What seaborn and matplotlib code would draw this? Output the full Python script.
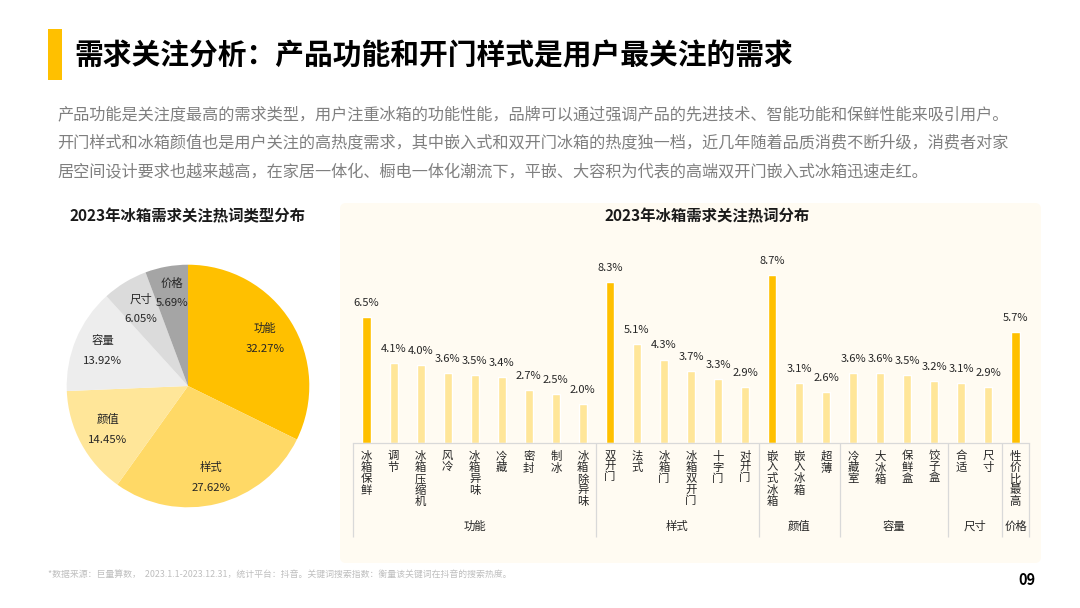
import numpy as np
import pandas as pd
import matplotlib
matplotlib.use('Agg')
import matplotlib.pyplot as plt
from matplotlib.patches import FancyBboxPatch, Rectangle
from matplotlib.transforms import blended_transform_factory
import seaborn as sns

sns.set_theme(style='white')
plt.rcParams['font.family'] = ['Noto Sans CJK SC', 'DejaVu Sans']

# Data
title = '需求关注分析：产品功能和开门样式是用户最关注的需求'
body_lines = [
    '产品功能是关注度最高的需求类型，用户注重冰箱的功能性能，品牌可以通过强调产品的先进技术、智能功能和保鲜性能来吸引用户。',
    '开门样式和冰箱颜值也是用户关注的高热度需求，其中嵌入式和双开门冰箱的热度独一档，近几年随着品质消费不断升级，消费者对家',
    '居空间设计要求也越来越高，在家居一体化、橱电一体化潮流下，平嵌、大容积为代表的高端双开门嵌入式冰箱迅速走红。',
]
footnote = '*数据来源：巨量算数，  2023.1.1-2023.12.31，统计平台：抖音。关键词搜索指数：衡量该关键词在抖音的搜索热度。'

pie_labels = ['功能', '样式', '颜值', '容量', '尺寸', '价格']
pie_values = [32.27, 27.62, 14.45, 13.92, 6.05, 5.69]
pie_colors = ['#FFC000', '#FFD966', '#FFE699', '#EDEDED', '#DBDBDB', '#A5A5A5']

words = ['冰箱保鲜', '调节', '冰箱压缩机', '风冷', '冰箱异味', '冷藏', '密封', '制冰', '冰箱除异味',
         '双开门', '法式', '冰箱门', '冰箱双开门', '十字门', '对开门',
         '嵌入式冰箱', '嵌入冰箱', '超薄',
         '冷藏室', '大冰箱', '保鲜盒', '饺子盒',
         '合适', '尺寸',
         '性价比最高']
heat = [6.5, 4.1, 4.0, 3.6, 3.5, 3.4, 2.7, 2.5, 2.0,
        8.3, 5.1, 4.3, 3.7, 3.3, 2.9,
        8.7, 3.1, 2.6,
        3.6, 3.6, 3.5, 3.2,
        3.1, 2.9,
        5.7]
top_words = ['冰箱保鲜', '双开门', '嵌入式冰箱', '性价比最高']
group_names = ['功能', '样式', '颜值', '容量', '尺寸', '价格']
group_sizes = [9, 6, 3, 4, 2, 1]

W, H = 1080, 608
fig = plt.figure(figsize=(W / 100, H / 100), dpi=100, facecolor='white')

# panel behind the bars, in pixels
panel = fig.add_axes([0, 0, 1, 1], zorder=-1)
panel.set_xlim(0, W)
panel.set_ylim(H, 0)
panel.axis('off')
panel.add_patch(FancyBboxPatch((340, 203), 701, 360, boxstyle='round,pad=0,rounding_size=6',
                               fc='#FFFBF2', ec='none'))
panel.add_patch(Rectangle((48, 29), 14, 51, color='#FFC000', lw=0))

# text layer above everything, in pixels
bg = fig.add_axes([0, 0, 1, 1], zorder=2)
bg.set_xlim(0, W)
bg.set_ylim(H, 0)
bg.axis('off')
bg.text(74.5, 55, title, fontsize=20.7, fontweight='bold', color='black', va='center')
for y, line in zip([114.5, 143, 171.5], body_lines):
    bg.text(57.5, y, line, fontsize=11.64, color='#7F7F7F', va='center')
bg.text(188, 216, '2023年冰箱需求关注热词类型分布', fontsize=11.1, fontweight='bold',
        color='#1A1A1A', ha='center', va='center')
bg.text(707, 216, '2023年冰箱需求关注热词分布', fontsize=11.1, fontweight='bold',
        color='#1A1A1A', ha='center', va='center')
bg.text(48, 574, footnote, fontsize=6.4, color='#BFBFBF', va='center')
bg.text(1027, 580, '09', fontsize=10.5, fontweight='bold', color='black', ha='center', va='center')

# pie
r = 121.3 * 1.05
ax_pie = fig.add_axes([(188 - r) / W, (H - 386 - r) / H, 2 * r / W, 2 * r / H])
ax_pie.pie(pie_values, colors=sns.color_palette(pie_colors), startangle=90, counterclock=False,
           wedgeprops={'linewidth': 0})
ax_pie.set_xlim(-1.05, 1.05)
ax_pie.set_ylim(-1.05, 1.05)
label_pos = [(264.7, 328), (211, 467.7), (108, 419.3), (103, 340.7), (140.7, 299), (171.7, 283)]
for (x, y), name, v in zip(label_pos, pie_labels, pie_values):
    bg.text(x, y, name, fontsize=8.2, color='#262626', ha='center', va='center')
    bg.text(x, y + 20.5, f'{v:.2f}%', fontsize=8.2, color='#262626', ha='center', va='center')

# bars
df = pd.DataFrame({'word': words, 'heat': heat})
palette = {w: '#FFC000' if w in top_words else '#FFE699' for w in words}
left, right, base = 353, 1029, 442.5
px_per_unit = 19.3
ax = fig.add_axes([left / W, (H - base) / H, (right - left) / W, 9 * px_per_unit / H])
sns.barplot(data=df, x='word', y='heat', hue='word', palette=palette, order=words, hue_order=words,
            dodge=False, legend=False, width=0.3, saturation=1, ax=ax)
for c in ax.containers:
    ax.bar_label(c, fmt='%.1f%%', padding=6.5, fontsize=8, color='#262626')
ax.set_xlim(-0.5, len(words) - 0.5)
ax.set_ylim(0, 9)
ax.patch.set_alpha(0)
ax.set_xlabel('')
ax.set_ylabel('')
ax.set_yticks([])
ax.set_xticks(range(len(words)))
ax.set_xticklabels(['\n'.join(w) for w in words], fontsize=8.2, color='#262626', linespacing=1.07)
ax.tick_params(axis='x', length=0, pad=6)
sns.despine(ax=ax, left=True)
ax.spines['bottom'].set_color('#D9D9D9')
ax.spines['bottom'].set_linewidth(0.9)

# group brackets under the axis
trans = blended_transform_factory(ax.transData, ax.transAxes)
edges = np.concatenate([[0], np.cumsum(group_sizes)]) - 0.5
ax.vlines(edges, -94 / (9 * px_per_unit), 0, transform=trans, colors='#D9D9D9', lw=0.9, clip_on=False)
for name, a, b in zip(group_names, edges[:-1], edges[1:]):
    ax.text((a + b) / 2, -84 / (9 * px_per_unit), name, transform=trans, fontsize=8.2,
            color='#262626', ha='center', va='center')

fig.savefig('out.png', dpi=100)
